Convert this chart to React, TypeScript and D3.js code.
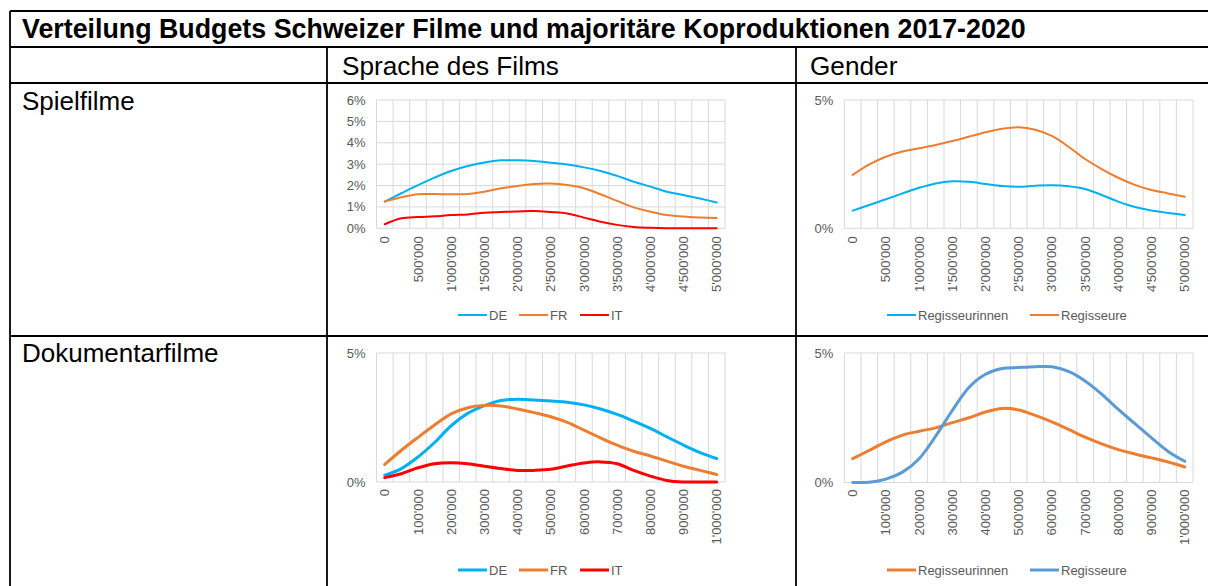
import React from "react";
import * as d3 from "d3";

// ---------- data ----------
const spielCategories = [0, 250000, 500000, 750000, 1000000, 1250000, 1500000, 1750000, 2000000, 2250000, 2500000, 2750000, 3000000, 3250000, 3500000, 3750000, 4000000, 4250000, 4500000, 4750000, 5000000];
const dokuCategories = [0, 50000, 100000, 150000, 200000, 250000, 300000, 350000, 400000, 450000, 500000, 550000, 600000, 650000, 700000, 750000, 800000, 850000, 900000, 950000, 1000000];

const spielDE = [1.25, 1.64, 2.02, 2.37, 2.68, 2.91, 3.08, 3.18, 3.18, 3.15, 3.07, 2.98, 2.85, 2.68, 2.45, 2.18, 1.95, 1.71, 1.56, 1.39, 1.21];
const spielFR = [1.25, 1.45, 1.59, 1.6, 1.59, 1.6, 1.71, 1.87, 1.98, 2.07, 2.09, 2.02, 1.87, 1.59, 1.28, 0.98, 0.78, 0.62, 0.55, 0.5, 0.48];
const spielIT = [0.19, 0.47, 0.53, 0.56, 0.62, 0.65, 0.73, 0.76, 0.79, 0.81, 0.76, 0.69, 0.5, 0.31, 0.16, 0.06, 0.02, 0, 0, 0, 0];

const spielRegisseurinnen = [0.69, 0.91, 1.13, 1.36, 1.58, 1.75, 1.83, 1.81, 1.73, 1.65, 1.62, 1.66, 1.68, 1.64, 1.53, 1.3, 1.04, 0.83, 0.69, 0.6, 0.52];
const spielRegisseure = [2.08, 2.49, 2.79, 2.99, 3.12, 3.25, 3.4, 3.57, 3.74, 3.88, 3.94, 3.84, 3.6, 3.18, 2.7, 2.31, 1.97, 1.69, 1.49, 1.36, 1.23];

const dokuDE = [0.26, 0.52, 0.97, 1.53, 2.18, 2.66, 2.96, 3.16, 3.21, 3.18, 3.14, 3.09, 2.99, 2.83, 2.62, 2.36, 2.08, 1.75, 1.43, 1.14, 0.91];
const dokuFR = [0.68, 1.23, 1.73, 2.21, 2.64, 2.88, 2.97, 2.95, 2.83, 2.69, 2.53, 2.31, 2.01, 1.71, 1.43, 1.19, 1.01, 0.81, 0.61, 0.45, 0.29];
const dokuIT = [0.17, 0.32, 0.55, 0.71, 0.75, 0.71, 0.61, 0.52, 0.45, 0.45, 0.49, 0.62, 0.74, 0.78, 0.71, 0.45, 0.23, 0.06, 0, 0, 0];

const dokuRegisseurinnen = [0.92, 1.24, 1.57, 1.83, 1.98, 2.11, 2.31, 2.5, 2.72, 2.86, 2.8, 2.59, 2.34, 2.05, 1.75, 1.49, 1.27, 1.1, 0.95, 0.79, 0.6];
const dokuRegisseure = [0, 0.01, 0.13, 0.4, 0.92, 1.79, 2.78, 3.67, 4.18, 4.4, 4.44, 4.47, 4.47, 4.29, 3.92, 3.41, 2.82, 2.27, 1.72, 1.2, 0.82];

const spielSpracheTicks = [0, 1, 2, 3, 4, 5, 6];
const fiveTicks = [0, 5];

const title = "Verteilung Budgets Schweizer Filme und majoritäre Koproduktionen 2017-2020";
const colHeaders = ["Sprache des Films", "Gender"];
const rowHeaders = ["Spielfilme", "Dokumentarfilme"];

// ---------- helpers ----------
const FONT = "'Liberation Sans', Arial, sans-serif";
const GRID = "#D9D9D9";
const LABEL = "#595959";
const fmt = d3.formatLocale({ decimal: ".", thousands: "'", grouping: [3], currency: ["", ""] }).format(",d");

type Series = { name: string; color: string; values: number[] };

function Panel(props: {
  x0: number; x1: number; y0: number; y1: number;
  cats: number[]; yMax: number; yTicks: number[];
  series: Series[]; sw: number; legendY: number; legendX: number[]; labelGap: number;
}) {
  const { x0, x1, y0, y1, cats, yMax, yTicks, series, sw, legendY, legendX, labelGap } = props;
  const x = d3.scaleBand<number>().domain(cats.map((_, i) => i)).range([x0, x1]).padding(0);
  const bw = x.bandwidth();
  const y = d3.scaleLinear().domain([0, yMax]).range([y1, y0]);
  const line = d3
    .line<number>()
    .x((_, i) => (x(i) as number) + bw / 2)
    .y((d) => y(d))
    .curve(d3.curveCatmullRom.alpha(0.5));
  const bounds = d3.range(cats.length + 1).map((i) => x0 + i * bw);
  return (
    <g>
      {bounds.map((bx, i) => (
        <line key={"v" + i} x1={bx} x2={bx} y1={y0} y2={y1} stroke={GRID} strokeWidth={1} />
      ))}
      {yTicks.map((t) => (
        <line key={"h" + t} x1={x0} x2={x1} y1={y(t)} y2={y(t)} stroke={GRID} strokeWidth={1} />
      ))}
      {yTicks.map((t) => (
        <text key={"yl" + t} x={x0 - 11} y={y(t)} dy="0.35em" textAnchor="end" fontSize={13} fill={LABEL} fontFamily={FONT}>
          {t + "%"}
        </text>
      ))}
      {cats.map((c, i) =>
        i % 2 === 0 ? (
          <text
            key={"xl" + i}
            transform={`translate(${(x(i) as number) + bw / 2},${y1 + labelGap}) rotate(-90)`}
            dy="0.35em"
            textAnchor="end"
            fontSize={13}
            fill={LABEL}
            fontFamily={FONT}
          >
            {fmt(c)}
          </text>
        ) : null
      )}
      {series.map((s) => (
        <path key={s.name} d={line(s.values) || ""} fill="none" stroke={s.color} strokeWidth={sw} strokeLinejoin="round" strokeLinecap="round" />
      ))}
      {series.map((s, i) => (
        <g key={"lg" + s.name}>
          <line x1={legendX[i]} x2={legendX[i] + 29} y1={legendY} y2={legendY} stroke={s.color} strokeWidth={sw} />
          <text x={legendX[i] + 31} y={legendY} dy="0.35em" fontSize={13} fill={LABEL} fontFamily={FONT}>
            {s.name}
          </text>
        </g>
      ))}
    </g>
  );
}

export default function App() {
  const W = 1208;
  const H = 586;
  const L = 10, T = 11, R1 = 47, R2 = 83, R3 = 336, C1 = 327, C2 = 796;
  const bw = 1.8;
  return (
    <svg width={W} height={H} style={{ position: "absolute", left: 0, top: 0, background: "#fff" }}>
      <rect x={0} y={0} width={W} height={H} fill="#fff" />
      {/* table lines */}
      <line x1={L} x2={W} y1={T} y2={T} stroke="#000" strokeWidth={bw} />
      <line x1={L} x2={W} y1={R1} y2={R1} stroke="#000" strokeWidth={bw} />
      <line x1={L} x2={W} y1={R2} y2={R2} stroke="#000" strokeWidth={bw} />
      <line x1={L} x2={W} y1={R3} y2={R3} stroke="#000" strokeWidth={bw} />
      <line x1={L} x2={L} y1={T} y2={H} stroke="#000" strokeWidth={bw} />
      <line x1={C1} x2={C1} y1={R1} y2={H} stroke="#000" strokeWidth={bw} />
      <line x1={C2} x2={C2} y1={R1} y2={H} stroke="#000" strokeWidth={bw} />

      <text x={22} y={38} fontSize={26.8} fontWeight="bold" fontFamily={FONT} fill="#000">{title}</text>
      <text x={342} y={75} fontSize={26.2} fontFamily={FONT} fill="#000">{colHeaders[0]}</text>
      <text x={810} y={75} fontSize={26.2} fontFamily={FONT} fill="#000">{colHeaders[1]}</text>
      <text x={22} y={110} fontSize={26} fontFamily={FONT} fill="#000">{rowHeaders[0]}</text>
      <text x={22} y={362} fontSize={26} fontFamily={FONT} fill="#000">{rowHeaders[1]}</text>

      <Panel
        x0={376.5} x1={725} y0={100} y1={228.3}
        cats={spielCategories} yMax={6} yTicks={spielSpracheTicks}
        series={[
          { name: "DE", color: "#00B0F0", values: spielDE },
          { name: "FR", color: "#ED7D31", values: spielFR },
          { name: "IT", color: "#FF0000", values: spielIT },
        ]}
        sw={2} legendY={315} legendX={[458, 519, 580]} labelGap={8}
      />
      <Panel
        x0={844.4} x1={1193} y0={100} y1={228.3}
        cats={spielCategories} yMax={5} yTicks={fiveTicks}
        series={[
          { name: "Regisseurinnen", color: "#00B0F0", values: spielRegisseurinnen },
          { name: "Regisseure", color: "#ED7D31", values: spielRegisseure },
        ]}
        sw={2} legendY={315} legendX={[887, 1030]} labelGap={8}
      />
      <Panel
        x0={376.5} x1={725} y0={353} y1={482}
        cats={dokuCategories} yMax={5} yTicks={fiveTicks}
        series={[
          { name: "DE", color: "#00B0F0", values: dokuDE },
          { name: "FR", color: "#ED7D31", values: dokuFR },
          { name: "IT", color: "#FF0000", values: dokuIT },
        ]}
        sw={3} legendY={570} legendX={[458, 519, 580]} labelGap={7}
      />
      <Panel
        x0={844.4} x1={1193} y0={353} y1={482.5}
        cats={dokuCategories} yMax={5} yTicks={fiveTicks}
        series={[
          { name: "Regisseurinnen", color: "#ED7D31", values: dokuRegisseurinnen },
          { name: "Regisseure", color: "#5B9BD5", values: dokuRegisseure },
        ]}
        sw={3} legendY={570} legendX={[887, 1030]} labelGap={7}
      />
    </svg>
  );
}
